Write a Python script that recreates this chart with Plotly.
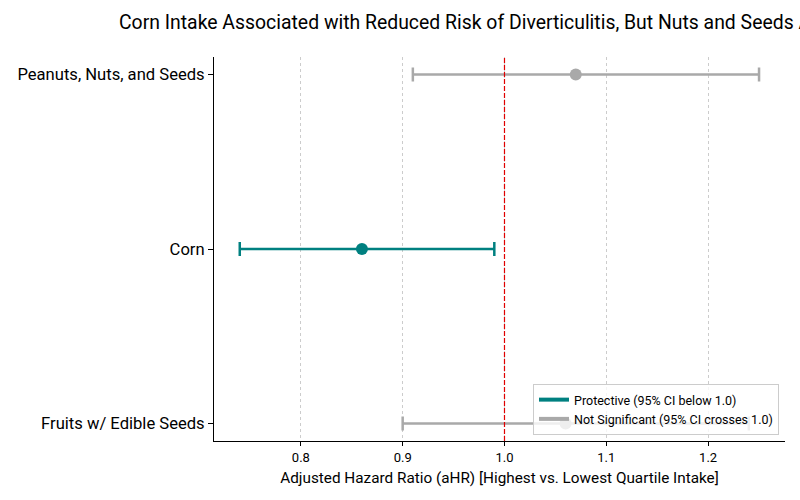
import plotly.graph_objects as go

categories = ["Fruits w/ Edible Seeds", "Corn", "Peanuts, Nuts, and Seeds"]
ahr = [1.06, 0.86, 1.07]
ci_low = [0.90, 0.74, 0.91]
ci_high = [1.24, 0.99, 1.25]
significance = ["Not Significant", "Protective", "Not Significant"]
x_ticks = [0.8, 0.9, 1.0, 1.1, 1.2]
reference_value = 1.0

TEAL = "#008080"
GRAY = "#A9A9A9"
FONT = "Roboto"

fig = go.Figure()

for i, cat in enumerate(categories):
    color = TEAL if significance[i] == "Protective" else GRAY
    fig.add_trace(go.Scatter(
        x=[ahr[i]], y=[i], mode="markers",
        marker=dict(size=12, color=color),
        error_x=dict(type="data", symmetric=False,
                     array=[ci_high[i] - ahr[i]],
                     arrayminus=[ahr[i] - ci_low[i]],
                     color=color, thickness=2.5, width=7),
        showlegend=False, hoverinfo="skip",
    ))

fig.add_trace(go.Scatter(x=[None], y=[None], mode="lines",
                         line=dict(color=TEAL, width=4),
                         name="Protective (95% CI below 1.0)"))
fig.add_trace(go.Scatter(x=[None], y=[None], mode="lines",
                         line=dict(color=GRAY, width=4),
                         name="Not Significant (95% CI crosses 1.0)"))

fig.add_shape(type="line", xref="x", yref="paper",
              x0=reference_value, x1=reference_value, y0=0, y1=1,
              line=dict(color="#E00000", width=1.2, dash="5px,2px"))

fig.update_layout(
    width=800, height=500,
    margin=dict(l=214, r=15, t=57, b=59),
    paper_bgcolor="white", plot_bgcolor="white",
    font=dict(family=FONT, color="black"),
    title=dict(text="Corn Intake Associated with Reduced Risk of Diverticulitis, But Nuts and Seeds Are Not Harmful",
               xref="container", x=119/800, xanchor="left",
               yref="container", y=1-22/500, yanchor="middle",
               font=dict(size=19.4, family=FONT, color="black")),
    xaxis=dict(range=[0.7147, 1.2755], tickvals=x_ticks,
               ticktext=[f"{v:.1f}" for v in x_ticks],
               showgrid=True, gridcolor="#cccccc", gridwidth=0.8, griddash="dot",
               showline=True, linecolor="black", linewidth=1,
               ticks="outside", ticklen=4, tickcolor="black",
               tickfont=dict(size=13), zeroline=False,
               title=dict(text="Adjusted Hazard Ratio (aHR) [Highest vs. Lowest Quartile Intake]",
                          font=dict(size=15.3), standoff=8)),
    yaxis=dict(range=[-0.1, 2.1], tickvals=[0, 1, 2], ticktext=categories,
               showgrid=False, showline=True, linecolor="black", linewidth=1,
               ticks="outside", ticklen=5, tickcolor="black",
               tickfont=dict(size=16.6), zeroline=False),
    legend=dict(x=0.9895, y=0.0156, xanchor="right", yanchor="bottom",
                bgcolor="rgba(255,255,255,0.8)", bordercolor="#cccccc", borderwidth=1,
                font=dict(size=12.5), tracegroupgap=0),
)

fig.write_html("out.html", config={"displayModeBar": False},
               post_script="document.body.style.margin='0';")
